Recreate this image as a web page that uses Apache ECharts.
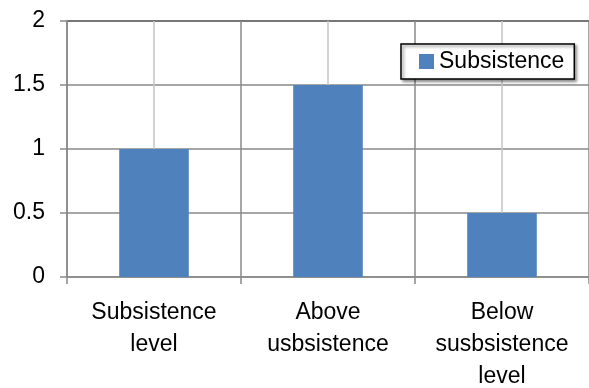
<!DOCTYPE html>
<html>
<head>
<meta charset="utf-8">
<script src="https://cdn.jsdelivr.net/npm/echarts@6/dist/echarts.min.js"></script>
<style>
  html, body { margin: 0; padding: 0; background: #fff; }
  #chart { width: 589px; height: 388px; }
</style>
</head>
<body>
<div id="chart"></div>
<script>
const categories = ["Subsistence\nlevel", "Above\nusbsistence", "Below\nsusbsistence\nlevel"];
const subsistence = [1, 1.5, 0.5];
const yTicks = { min: 0, max: 2, interval: 0.5 };

const FONT = "'Liberation Sans', Arial, sans-serif";
const GRID = "#898989";

const chart = echarts.init(document.getElementById("chart"));

const option = {
  animation: false,
  backgroundColor: "#ffffff",
  grid: { left: 67, right: 0, top: 21, bottom: 111, outerBoundsMode: "none", containLabel: false },
  legend: {
    left: 401,
    top: 44,
    itemWidth: 15,
    itemHeight: 15,
    itemGap: 6,
    padding: [6, 10, 6, 18],
    backgroundColor: "#ffffff",
    borderColor: "#000000",
    borderWidth: 1.5,
    borderRadius: 0,
    shadowColor: "rgba(0,0,0,0.45)",
    shadowBlur: 3,
    shadowOffsetX: 2,
    shadowOffsetY: 2,
    textStyle: { fontFamily: FONT, fontSize: 23, color: "#000" },
    data: [{ name: "Subsistence", icon: "rect" }]
  },
  xAxis: [
    {
      type: "category",
      data: categories,
      axisLine: { lineStyle: { color: GRID, width: 1.5 } },
      axisTick: { show: true, length: 7, lineStyle: { color: GRID, width: 1.5 } },
      splitLine: { show: true, lineStyle: { color: GRID, width: 1.5 } },
      axisLabel: {
        fontFamily: FONT,
        fontSize: 23,
        color: "#000",
        lineHeight: 32,
        margin: 20,
        verticalAlign: "top",
        interval: 0
      }
    },
    {
      type: "value",
      min: 0,
      max: 6,
      interval: 1,
      position: "bottom",
      axisLine: { show: false },
      axisTick: { show: false },
      axisLabel: { show: false },
      splitLine: {
        show: true,
        lineStyle: { color: ["rgba(0,0,0,0)", "#c4c4c4"], width: 1.5 }
      }
    }
  ],
  yAxis: {
    type: "value",
    min: yTicks.min,
    max: yTicks.max,
    interval: yTicks.interval,
    axisLine: { show: true, lineStyle: { color: GRID, width: 1.5 } },
    axisTick: { show: true, length: 7, lineStyle: { color: GRID, width: 1.5 } },
    splitLine: {
      show: true,
      lineStyle: { color: [GRID, GRID, GRID, GRID, "#4a4a4a"], width: 1.5 }
    },
    axisLabel: {
      fontFamily: FONT,
      fontSize: 23,
      color: "#000",
      margin: 22
    }
  },
  series: [
    {
      name: "Subsistence",
      type: "bar",
      xAxisIndex: 0,
      data: subsistence,
      barWidth: "40%",
      itemStyle: { color: "#4f81bd" },
      z: 3
    }
  ]
};

chart.setOption(option);
</script>
</body>
</html>
